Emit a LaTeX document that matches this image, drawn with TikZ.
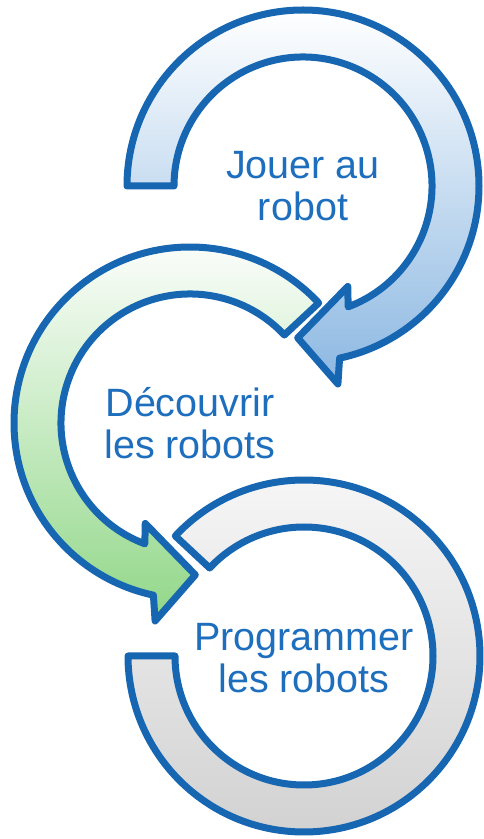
\documentclass[tikz,border=0pt]{standalone}
\usepackage{tikz}
\usetikzlibrary{calc}
\usepackage{fontspec}
\setmainfont{Liberation Sans}
\definecolor{cobalt}{RGB}{22, 102, 178}
\definecolor{inkblue}{RGB}{30, 110, 190}
\definecolor{skyblue}{RGB}{140, 184, 226}
\definecolor{mint}{RGB}{145, 215, 136}
\definecolor{silver}{RGB}{208, 208, 208}
\tikzset{
    band/.style={draw=cobalt, line width=7pt, line join=round},
    steptext/.style={text=inkblue, align=center, font=\fontsize{39.5}{42}\selectfont}
}

\begin{document}
\begin{tikzpicture}[x=1pt, y=1pt]
            \useasboundingbox (0,0) rectangle (483,839);
            \coordinate (jouerc)      at (303,653);
            \coordinate (decouvrirc)  at (190,416);
            \coordinate (programmerc) at (304,183);
            % top arrow, clockwise
            \draw[band, top color=white,       bottom color=skyblue, shift={(jouerc)}]
                 (180:176) arc[start angle=180, end angle=-78, radius=176]
                 -- (-80:201) -- (-92:152) -- (-66:110) -- (-69.5:129)
                 arc[start angle=-69.5, end angle=180, radius=129] -- cycle;
            % middle arrow, counter-clockwise
            \draw[band, top color=white,       bottom color=mint,    shift={(decouvrirc)}]
                 (43:176) arc[start angle=43, end angle=258, radius=176]
                 -- (260:201) -- (272:152) -- (246:110) -- (249.5:129)
                 arc[start angle=249.5, end angle=43, radius=129] -- cycle;
            % bottom ring, no head
            \draw[band, top color=white!97!black, bottom color=silver, shift={(programmerc)}]
                 (137:176) arc[start angle=137, end angle=-180, radius=176]
                 -- (-180:129)
                 arc[start angle=-180, end angle=137, radius=129] -- cycle;
            \node[steptext] (jouer)      at (jouerc)      {Jouer au\\robot};
            \node[steptext] (decouvrir)  at (decouvrirc)  {Découvrir\\les robots};
            \node[steptext] (programmer) at ([yshift=-2]programmerc) {Programmer\\les robots};
\end{tikzpicture}
\end{document}
